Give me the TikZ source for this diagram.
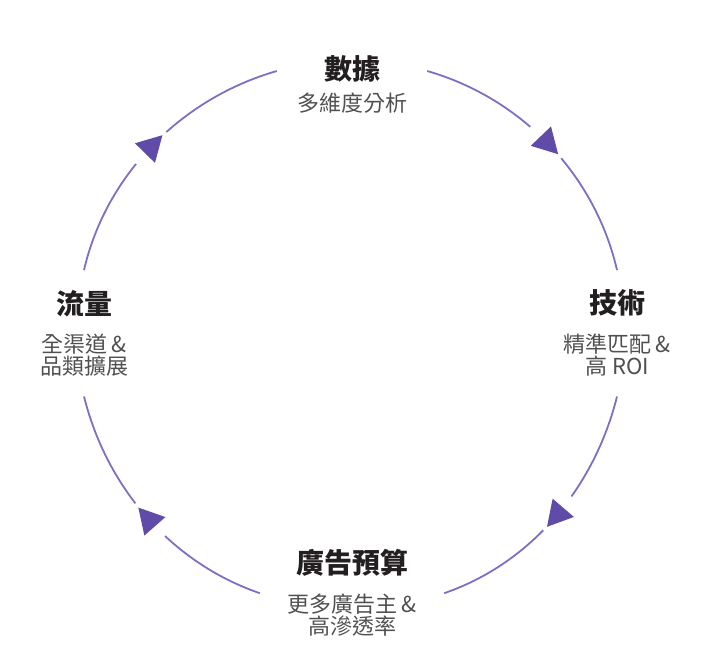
\documentclass[tikz,border=0pt]{standalone}
\usepackage{fontspec}
\setmainfont{Noto Sans CJK TC}
\usetikzlibrary{decorations.markings}
\definecolor{ringline}{RGB}{128,110,196}
\definecolor{ringtip}{RGB}{96,76,168}
\definecolor{titlegray}{RGB}{35,31,32}
\definecolor{subgray}{RGB}{80,80,80}
\newcommand\stationtitle[1]{{\fontsize{28}{30}\selectfont\bfseries\color{titlegray}#1}}
\tikzset{
  station/.style={font=\fontsize{22}{22.5}\selectfont, text=subgray, align=center, inner sep=0pt},
  flowarc/.style={draw=ringline, line width=1.8pt, looseness=0.91,
    decoration={markings, mark=at position 0.5 with {
      \fill[white] (-4,0) circle (22);
      \fill[ringtip] (13,0) -- (-12,14) -- (-12,-14) -- cycle;}},
    postaction={decorate}}
}
\begin{document}
\begin{tikzpicture}[x=1pt,y=1pt]
\useasboundingbox (0,0) rectangle (719,660);
\node[station, minimum width=150, minimum height=70] (data) at (352,575.7) {\stationtitle{數據}\\[9.9pt]多維度分析};
\node[station, minimum height=126] (tech) at (617,326.7) {\stationtitle{技術}\\[15.9pt]精準匹配 \&\\高 ROI};
\node[station, minimum width=184] (budget) at (352,66.8) {\stationtitle{廣告預算}\\[15.9pt]更多廣告主 \&\\高滲透率};
\node[station, minimum height=126] (flow) at (84,326.7) {\stationtitle{流量}\\[15.9pt]全渠道 \&\\品類擴展};
\draw[flowarc] (data.10) to[out=-16, in=103] (tech.north);
\draw[flowarc] (tech.south) to[out=-104, in=19] (budget.east);
\draw[flowarc] (budget.west) to[out=161, in=-76] (flow.south);
\draw[flowarc] (flow.north) to[out=77, in=196] (data.170);
\end{tikzpicture}
\end{document}
